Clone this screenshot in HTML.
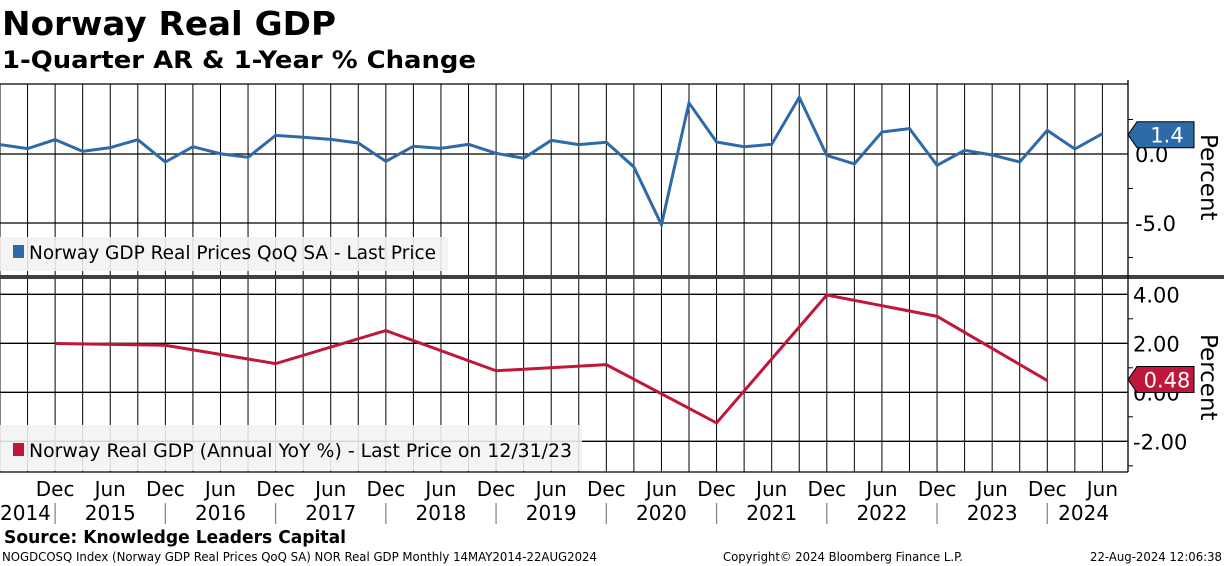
<!DOCTYPE html>
<html><head><meta charset="utf-8"><style>
html,body{margin:0;padding:0;background:#fff;width:1224px;height:566px;overflow:hidden}
svg{display:block;font-family:"DejaVu Sans","Liberation Sans",sans-serif}
</style></head><body>
<svg id="chart" width="1224" height="566" viewBox="0 0 1224 566" xmlns="http://www.w3.org/2000/svg">
<text x="2" y="35" font-size="33" font-weight="bold" textLength="334" lengthAdjust="spacingAndGlyphs">Norway Real GDP</text>
<text x="2" y="68" font-size="24" font-weight="bold" textLength="474" lengthAdjust="spacingAndGlyphs">1-Quarter AR &amp; 1-Year % Change</text>
<g id="grid"></g>
<g id="legends">
<rect x="0" y="237" width="448" height="34" fill="#f2f2f2" fill-opacity="0.88"/>
<rect x="13" y="245" width="11" height="13" fill="#2e6aa8"/>
<text x="29" y="259" font-size="19" textLength="407" lengthAdjust="spacingAndGlyphs">Norway GDP Real Prices QoQ SA - Last Price</text>
<rect x="0" y="425" width="582" height="46" fill="#f2f2f2" fill-opacity="0.88"/>
<rect x="13" y="443" width="11" height="13" fill="#c0163a"/>
<text x="29" y="457" font-size="19" textLength="543" lengthAdjust="spacingAndGlyphs">Norway Real GDP (Annual YoY %) - Last Price on 12/31/23</text>
</g>
<g id="plot"></g>
<rect x="0" y="275" width="1224" height="4" fill="#404040"/>
<g id="axes"></g>
<text x="0" y="0" font-size="23" transform="translate(1201,134) rotate(90)">Percent</text>
<text x="0" y="0" font-size="23" transform="translate(1201,334) rotate(90)">Percent</text>
<text x="4" y="543" font-size="18" font-weight="bold" textLength="342" lengthAdjust="spacingAndGlyphs">Source: Knowledge Leaders Capital</text>
<text x="2" y="561" font-size="12" textLength="595" lengthAdjust="spacingAndGlyphs">NOGDCOSQ Index (Norway GDP Real Prices QoQ SA) NOR Real GDP  Monthly 14MAY2014-22AUG2024</text>
<text x="723" y="561" font-size="12" textLength="240" lengthAdjust="spacingAndGlyphs">Copyright© 2024 Bloomberg Finance L.P.</text>
<text x="1090" y="561" font-size="12" textLength="132" lengthAdjust="spacingAndGlyphs">22-Aug-2024 12:06:38</text>
</svg>
<script>
// Quarterly QoQ series, Jun 2014 .. Jun 2024
const qoqValues = [0.68,0.39,1.04,0.19,0.46,1.04,-0.58,0.53,0.02,-0.24,1.35,1.21,1.06,0.80,-0.53,0.56,0.41,0.70,0.05,-0.31,0.99,0.68,0.85,-0.94,-5.12,3.70,0.87,0.53,0.70,4.11,-0.10,-0.72,1.59,1.84,-0.82,0.27,-0.07,-0.58,1.71,0.36,1.47];
// Annual YoY, Dec 2014 .. Dec 2023 (quarter index of each)
const yoyQuarterIdx = [2,6,10,14,18,22,26,30,34,38];
const yoyValues = [1.99,1.92,1.17,2.52,0.88,1.13,-1.25,3.97,3.10,0.48];
const topTicks = [0,-5];
const topTickLabels = ["0.0","-5.0"];
const botTicks = [4,2,0,-2];
const botTickLabels = ["4.00","2.00","0.00","-2.00"];
const years = ["2014","2015","2016","2017","2018","2019","2020","2021","2022","2023","2024"];
const qoqLastLabel = "1.4";
const yoyLastLabel = "0.48";

const NS="http://www.w3.org/2000/svg";
const X0=0, QW=27.56, RIGHT=1128;
const xq=i=>X0+i*QW;
const yTop=v=>154-v*13.8;
const yBot=v=>392.3-v*24.5;
function mk(tag,attrs,parent,text){const e=document.createElementNS(NS,tag);for(const k in attrs)e.setAttribute(k,attrs[k]);if(text!==undefined)e.textContent=text;parent.appendChild(e);return e;}
const grid=document.getElementById('grid'),plot=document.getElementById('plot'),axes=document.getElementById('axes');
const nQ=41;
for(let i=0;i<nQ;i++){
  const g=mk('line',{x1:xq(i),x2:xq(i),y1:84,y2:472,stroke:'#000','stroke-width':1},grid);
  
  
}
const tb=mk('line',{x1:0,x2:RIGHT,y1:84,y2:84,stroke:'#000','stroke-width':1.3},grid);


topTicks.forEach((v,k)=>{
  const l=mk('line',{x1:0,x2:RIGHT,y1:yTop(v),y2:yTop(v),stroke:'#000','stroke-width':1.3},grid);
  
  
  const t=mk('text',{x:1135,y:yTop(v)+8,'font-size':21},axes,topTickLabels[k]);
  
  
});
botTicks.forEach((v,k)=>{
  const l=mk('line',{x1:0,x2:RIGHT,y1:yBot(v),y2:yBot(v),stroke:'#000','stroke-width':1.3},grid);
  
  
  const t=mk('text',{x:1133,y:yBot(v)+8,'font-size':21},axes,botTickLabels[k]);
  
  
});
const ra=mk('line',{x1:RIGHT,x2:RIGHT,y1:80,y2:472,stroke:'#000','stroke-width':1.3},axes);


[2.5,-2.5,-7.5].forEach(v=>{const m=mk('line',{x1:RIGHT,x2:RIGHT+5,y1:yTop(v),y2:yTop(v),stroke:'#000'},axes);});
[3,1,-1,-3].forEach(v=>{const m=mk('line',{x1:RIGHT,x2:RIGHT+5,y1:yBot(v),y2:yBot(v),stroke:'#000'},axes);});
const xa=mk('line',{x1:0,x2:RIGHT,y1:472,y2:472,stroke:'#000','stroke-width':1.3},axes);


for(let i=0;i<nQ;i++){
  if(i%2===0&&i>0){
    const lab=(i%4===2)?'Dec':'Jun';
    const t=mk('text',{x:xq(i),y:496,'font-size':20,'text-anchor':'middle'},axes,lab);
    
    
  }
  if(i%4===2){
    const s=mk('line',{x1:xq(i),x2:xq(i),y1:503,y2:524,stroke:'#888','stroke-width':1.3},axes);
    
    
  }
}
years.forEach((y,k)=>{
  let cx = k===0 ? 0 : (xq(2+4*(k-1))+Math.min(xq(2+4*k),1120))/2;
  const t=mk('text',{x:k===0?0:cx,y:520,'font-size':20,'text-anchor':k===0?'start':'middle'},axes,y);
  
  
});
const p1=mk('polyline',{points:qoqValues.map((v,i)=>xq(i)+','+yTop(v)).join(' '),fill:'none',stroke:'#2e6aa8','stroke-width':3,'stroke-linejoin':'miter'},plot);


const p2=mk('polyline',{points:yoyValues.map((v,k)=>xq(yoyQuarterIdx[k])+','+yBot(v)).join(' '),fill:'none',stroke:'#c0163a','stroke-width':3},plot);


function tag(y,fill,label,name){
  const g=mk('g',{},axes);
  
  
  mk('polygon',{points:`${RIGHT},${y} ${RIGHT+9},${y-13} ${RIGHT+66},${y-13} ${RIGHT+66},${y+13} ${RIGHT+9},${y+13}`,fill:fill,stroke:'#000','stroke-width':1},g);
  mk('text',{x:RIGHT+39,y:y+8,'font-size':21,fill:'#fff','text-anchor':'middle'},g,label);
}
tag(yTop(qoqValues[qoqValues.length-1])+1,'#2e6aa8',qoqLastLabel,'qoq-last-value-tag');
tag(yBot(yoyValues[yoyValues.length-1])-1,'#c0163a',yoyLastLabel,'yoy-last-value-tag');
</script>
</body></html>
